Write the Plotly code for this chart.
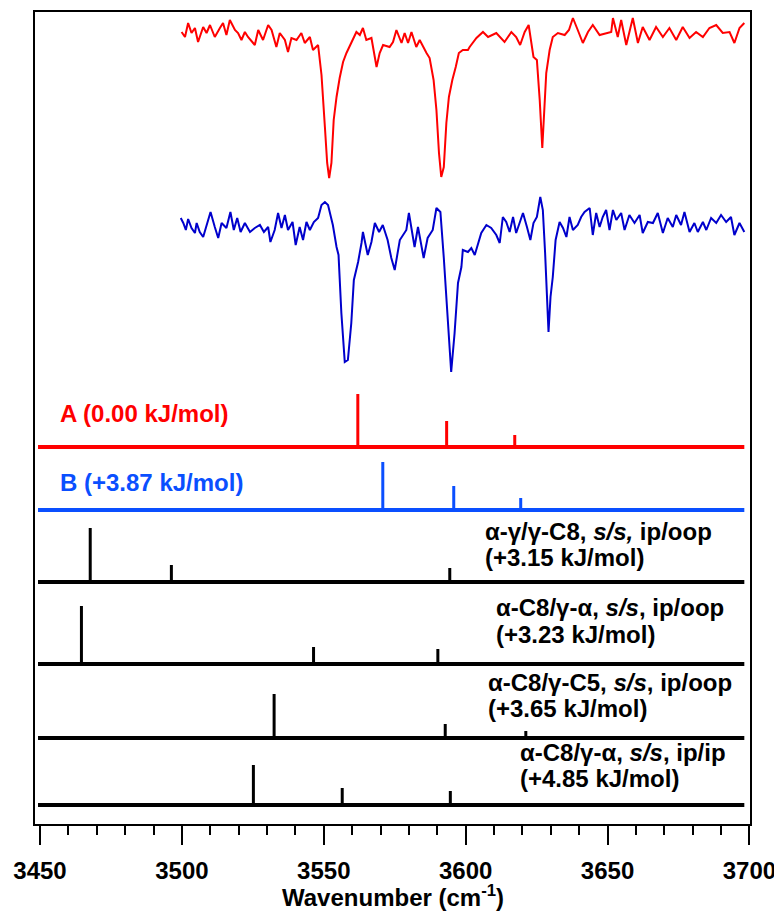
import plotly.graph_objects as go

# ---------------- data ----------------
# Experimental IR-UV double resonance traces (wavenumber, plotted level; hidden offset scale, increasing downward)
red_wn = [3499.9, 3501.1, 3502.2, 3503.4, 3504.6, 3505.7, 3507.5, 3508.7, 3509.9, 3511.6, 3513.4, 3514.5,
          3515.7, 3516.9, 3518.7, 3519.8, 3521.0, 3522.2, 3523.3, 3525.7, 3526.9, 3528.6, 3530.4, 3531.6,
          3533.3, 3534.5, 3536.3, 3537.4, 3538.6, 3540.4, 3542.1, 3543.3, 3545.1, 3546.2, 3548.0, 3549.2,
          3550.4, 3551.2, 3551.9, 3552.7, 3553.5, 3554.5, 3555.6, 3556.8, 3558.0, 3559.8, 3561.5, 3562.7,
          3563.8, 3565.0, 3566.8, 3568.6, 3569.7, 3570.9, 3573.2, 3574.4, 3575.6, 3577.4, 3578.5, 3579.7,
          3580.9, 3582.6, 3583.8, 3586.2, 3587.3, 3588.7, 3589.7, 3590.6, 3591.4, 3592.3, 3593.2, 3594.1,
          3595.3, 3596.5, 3597.6, 3599.0, 3600.8, 3601.4, 3603.8, 3606.1, 3607.9, 3610.8, 3613.7, 3616.1,
          3617.8, 3619.2, 3620.8, 3622.2, 3623.1, 3623.9, 3625.1, 3626.1, 3627.0, 3627.8, 3628.4, 3629.6,
          3630.7, 3632.5, 3634.9, 3636.4, 3637.8, 3639.5, 3641.3, 3643.1, 3644.8, 3647.2, 3649.5, 3651.3,
          3651.9, 3653.6, 3654.8, 3656.6, 3658.9, 3660.7, 3662.4, 3664.8, 3667.1, 3669.5, 3671.8, 3674.2,
          3676.5, 3678.9, 3681.2, 3683.6, 3685.9, 3688.3, 3690.6, 3693.0, 3694.7, 3696.5, 3698.2]
red_signal = [32, 37, 23, 33, 28, 42, 27, 33, 25, 37, 28, 23,
              35, 20, 30, 33, 40, 32, 37, 45, 30, 40, 25, 30,
              47, 33, 40, 52, 38, 40, 33, 43, 37, 50, 45, 75,
              127, 163, 178, 163, 120, 97, 78, 62, 53, 43, 32, 35,
              28, 40, 38, 67, 53, 45, 47, 42, 30, 43, 33, 43,
              32, 47, 40, 53, 58, 80, 110, 153, 177, 167, 123, 97,
              80, 67, 53, 50, 50, 47, 38, 32, 37, 33, 42, 32,
              37, 45, 32, 25, 42, 57, 60, 100, 148, 110, 73, 50,
              37, 33, 35, 30, 18, 30, 43, 32, 25, 35, 33, 32,
              18, 37, 20, 45, 18, 43, 27, 40, 27, 37, 28, 40,
              27, 38, 32, 37, 28, 25, 33, 32, 43, 28, 23]

blue_wn = [3499.6, 3500.5, 3501.4, 3502.2, 3503.4, 3504.6, 3505.2, 3506.3, 3507.5, 3508.7, 3510.1, 3511.6,
           3512.8, 3514.0, 3515.7, 3517.1, 3518.3, 3519.5, 3520.7, 3522.2, 3524.0, 3525.7, 3527.5, 3528.9,
           3530.4, 3531.2, 3532.7, 3533.9, 3535.1, 3536.3, 3537.4, 3539.0, 3540.1, 3541.5, 3542.7, 3543.9,
           3545.1, 3546.5, 3548.0, 3549.2, 3550.4, 3551.5, 3553.2, 3554.5, 3555.2, 3556.2, 3557.4, 3558.5,
           3559.7, 3560.6, 3562.1, 3563.3, 3563.8, 3565.5, 3566.8, 3568.0, 3569.5, 3570.8, 3572.5, 3573.8,
           3575.0, 3576.8, 3579.1, 3580.0, 3582.0, 3583.2, 3585.2, 3586.6, 3588.4, 3589.7, 3591.1, 3592.3,
           3593.2, 3594.1, 3594.9, 3596.1, 3597.3, 3598.5, 3599.0, 3600.8, 3602.0, 3603.2, 3604.3, 3605.5,
           3607.3, 3609.0, 3610.8, 3612.0, 3613.1, 3614.3, 3615.5, 3616.7, 3617.8, 3619.0, 3620.2, 3621.6,
           3622.8, 3623.9, 3625.1, 3626.3, 3627.2, 3628.0, 3628.6, 3629.2, 3629.9, 3630.7, 3631.7, 3633.1,
           3634.3, 3635.5, 3636.6, 3637.8, 3639.5, 3640.7, 3641.9, 3643.7, 3644.8, 3646.0, 3647.2, 3648.3,
           3649.5, 3650.7, 3651.9, 3653.1, 3654.8, 3656.0, 3657.7, 3659.5, 3661.3, 3662.4, 3664.2, 3666.0,
           3667.7, 3669.5, 3671.2, 3673.0, 3674.2, 3675.9, 3677.1, 3678.9, 3680.6, 3681.8, 3683.6, 3684.8,
           3686.5, 3688.3, 3690.0, 3691.8, 3693.5, 3694.7, 3696.5, 3698.2]
blue_signal = [218, 223, 230, 219, 228, 233, 223, 232, 237, 225, 212, 227,
               238, 223, 228, 212, 230, 218, 232, 223, 232, 228, 225, 232,
               227, 242, 230, 213, 228, 215, 230, 222, 245, 227, 240, 222,
               230, 222, 218, 205, 202, 205, 225, 247, 255, 313, 362, 360,
               323, 280, 262, 243, 232, 255, 242, 223, 232, 225, 240, 258,
               270, 240, 230, 213, 247, 227, 258, 238, 230, 208, 212, 258,
               300, 335, 372, 333, 283, 267, 250, 252, 248, 255, 245, 233,
               225, 228, 235, 243, 217, 222, 232, 217, 233, 223, 213, 227,
               240, 223, 217, 197, 210, 253, 300, 332, 297, 277, 240, 222,
               228, 237, 217, 230, 225, 217, 212, 208, 235, 213, 227, 217,
               210, 230, 210, 220, 213, 230, 215, 223, 215, 233, 222, 223,
               213, 233, 218, 227, 215, 225, 212, 232, 223, 232, 222, 230,
               218, 223, 215, 222, 217, 235, 223, 232]

# Calculated stick spectra: frequencies (cm-1) and relative intensities
A_freq = [3562.0, 3593.3, 3617.3]
A_int = [53, 26, 12]
B_freq = [3570.8, 3595.8, 3619.4]
B_int = [48, 24, 12]
C1_freq = [3467.7, 3496.3, 3594.4]
C1_int = [54, 17, 14]
C2_freq = [3464.6, 3546.4, 3590.2]
C2_int = [58, 17, 15]
C3_freq = [3532.5, 3592.8, 3621.2]
C3_int = [44, 14, 7]
C4_freq = [3525.2, 3556.5, 3594.6]
C4_int = [40, 17, 14]

A_label = "A (0.00 kJ/mol)"
B_label = "B (+3.87 kJ/mol)"
C1_label = ["α-γ/γ-C8, <i>s/s,</i> ip/oop", "(+3.15 kJ/mol)"]
C2_label = ["α-C8/γ-α, <i>s/s</i>, ip/oop", "(+3.23 kJ/mol)"]
C3_label = ["α-C8/γ-C5, <i>s/s</i>, ip/oop", "(+3.65 kJ/mol)"]
C4_label = ["α-C8/γ-α, <i>s/s</i>, ip/ip", "(+4.85 kJ/mol)"]

tick_vals = [3450, 3500, 3550, 3600, 3650, 3700]
tick_text = ["3450", "3500", "3550", "3600", "3650", "3700"]
x_title = "Wavenumber (cm<sup>-1</sup>)"

# ---------------- styling / layout ----------------
FONT = "Liberation Sans, Arial, sans-serif"
RED = "#ff0000"
DARKBLUE = "#0000cc"
BLUE = "#0a4fff"
BLACK = "#000000"

stick_sets = [
    (A_freq, A_int, RED, 447),
    (B_freq, B_int, BLUE, 510),
    (C1_freq, C1_int, BLACK, 582),
    (C2_freq, C2_int, BLACK, 664),
    (C3_freq, C3_int, BLACK, 738),
    (C4_freq, C4_int, BLACK, 805),
]
base_x = [3449.3, 3698.2]

fig = go.Figure()
fig.add_trace(go.Scatter(x=red_wn, y=red_signal, mode="lines",
                         line=dict(color=RED, width=2), hoverinfo="skip"))
fig.add_trace(go.Scatter(x=blue_wn, y=blue_signal, mode="lines",
                         line=dict(color=DARKBLUE, width=2), hoverinfo="skip"))

for freqs, ints, color, base in stick_sets:
    fig.add_trace(go.Scatter(x=base_x, y=[base, base], mode="lines",
                             line=dict(color=color, width=4), hoverinfo="skip"))
    xs, ys = [], []
    for f, h in zip(freqs, ints):
        xs += [f, f, None]
        ys += [base, base - h, None]
    fig.add_trace(go.Scatter(x=xs, y=ys, mode="lines",
                             line=dict(color=color, width=3), hoverinfo="skip"))

annotations = []
def add_text(x, y, text, color, size, xref="x", yref="y", xanchor="left"):
    annotations.append(dict(x=x, y=y, xref=xref, yref=yref, text=text, showarrow=False,
                            xanchor=xanchor, yanchor="middle",
                            font=dict(family=FONT, size=size, color=color, weight="bold")))

add_text(3456.3, 413, A_label, RED, 24)
add_text(3456.3, 482, B_label, BLUE, 24)
label_pos = [(C1_label, 3606.0, 531, 557), (C2_label, 3609.9, 607, 634),
             (C3_label, 3607.3, 682, 708), (C4_label, 3618.6, 752, 778)]
for lines, x0, y1, y2 in label_pos:
    add_text(x0, y1, lines[0], BLACK, 24)
    add_text(x0, y2, lines[1], BLACK, 24)
# axis title placed under the tick labels
add_text(0.5, -0.089, x_title, BLACK, 24, xref="paper", yref="paper", xanchor="center")

fig.update_layout(
    width=774, height=916,
    margin=dict(l=35, r=24, t=12, b=92, autoexpand=False),
    paper_bgcolor="white", plot_bgcolor="white",
    showlegend=False,
    annotations=annotations,
    xaxis=dict(range=[3448.24, 3700.2], tickvals=tick_vals, ticktext=tick_text,
               ticks="outside", ticklen=19, tickwidth=2, tickcolor=BLACK,
               showline=True, linewidth=2, linecolor=BLACK, mirror=True,
               showgrid=False, zeroline=False, automargin=False,
               ticklabeloverflow="allow",
               minor=dict(ticks="outside", ticklen=9, tickwidth=2, tickcolor=BLACK,
                          dtick=10, tick0=3450, showgrid=False),
               tickfont=dict(family=FONT, size=24, color=BLACK, weight="bold"),
               ticklabelstandoff=5),
    yaxis=dict(range=[824, 12], showline=True, linewidth=2, linecolor=BLACK, mirror=True,
               showticklabels=False, ticks="", showgrid=False, zeroline=False, automargin=False),
)

fig.write_html("out.html", config={"displayModeBar": False},
               post_script="document.body.style.margin='0px';")
